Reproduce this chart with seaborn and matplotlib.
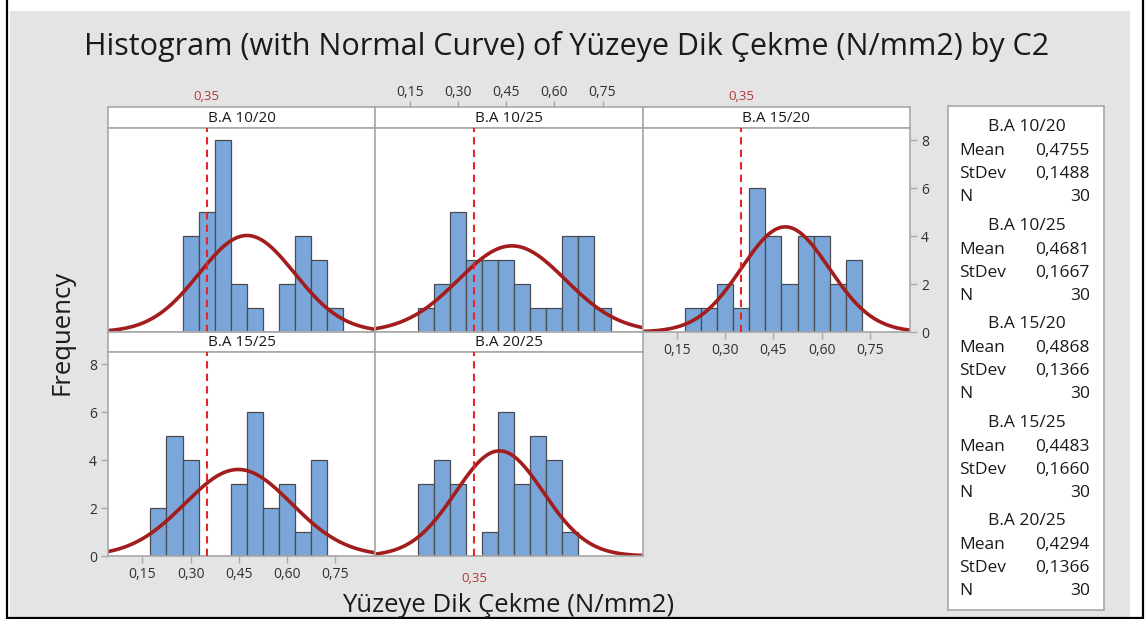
import numpy as np
import pandas as pd
import matplotlib
matplotlib.use("Agg")
import matplotlib.pyplot as plt
import seaborn as sns
from matplotlib.ticker import FuncFormatter, FixedLocator
from matplotlib.transforms import blended_transform_factory
from matplotlib.patches import Rectangle
from matplotlib.lines import Line2D

# ---------------- data ----------------
groups = ["B.A 10/20", "B.A 10/25", "B.A 15/20", "B.A 15/25", "B.A 20/25"]
bin_centers = [0.20, 0.25, 0.30, 0.35, 0.40, 0.45, 0.50, 0.55, 0.60, 0.65, 0.70, 0.75]
counts_10_20 = [0, 0, 4, 5, 8, 2, 1, 0, 2, 4, 3, 1]
counts_10_25 = [1, 2, 5, 3, 3, 3, 2, 1, 1, 4, 4, 1]
counts_15_20 = [1, 1, 2, 1, 6, 4, 2, 4, 4, 2, 3, 0]
counts_15_25 = [2, 5, 4, 0, 0, 3, 6, 2, 3, 1, 4, 0]
counts_20_25 = [3, 4, 3, 0, 1, 6, 3, 5, 4, 1, 0, 0]
means = [0.4755, 0.4681, 0.4868, 0.4483, 0.4294]
stdevs = [0.1488, 0.1667, 0.1366, 0.1660, 0.1366]
n_obs = [30, 30, 30, 30, 30]
ref_value = 0.35
x_ticks = [0.15, 0.30, 0.45, 0.60, 0.75]
y_ticks = [0, 2, 4, 6, 8]
title = "Histogram (with Normal Curve) of Yüzeye Dik Çekme (N/mm2) by C2"
x_label = "Yüzeye Dik Çekme (N/mm2)"
y_label = "Frequency"

all_counts = [counts_10_20, counts_10_25, counts_15_20, counts_15_25, counts_20_25]

# ---------------- style ----------------
sns.set_theme(style="white")
plt.rcParams['font.family'] = ['Open Sans', 'DejaVu Sans']

W, H = 1146, 619
BG = "#e4e4e4"
BAR = "#7ba6da"
EDGE = "#4a4c52"
CURVE = "#a31d1d"
REF = "#e3262c"
REF_TXT = "#b5373a"
SPINE = "#a8a8a8"
TXT = "#1a1a1a"
TICK_TXT = "#303030"

fig = plt.figure(figsize=(W / 100, H / 100), dpi=100)
fig.patch.set_facecolor("white")

# gray background panel and black frame lines
fig.add_artist(Rectangle((10 / W, 0), 1120 / W, 1 - 11 / H, transform=fig.transFigure,
                         facecolor=BG, edgecolor="none", zorder=-10))
fig.add_artist(Line2D([7 / W, 7 / W], [0, 1], transform=fig.transFigure, color="black", lw=1.6))
fig.add_artist(Line2D([1143 / W, 1143 / W], [0, 1], transform=fig.transFigure, color="black", lw=1.6))
fig.add_artist(Line2D([7 / W, 1143 / W], [1 - 617.5 / H] * 2, transform=fig.transFigure, color="black", lw=1.6))


def add_axes_px(x0, y0, x1, y1):
    return fig.add_axes([x0 / W, 1 - y1 / H, (x1 - x0) / W, (y1 - y0) / H])


def comma_fmt(v, pos=None):
    return f"{v:.2f}".replace(".", ",")


bin_width = 0.05
bin_edges = [round(0.175 + i * bin_width, 3) for i in range(len(bin_centers) + 1)]
xlim = (0.043, 0.875)
ylim = (0, 8.5)

col_x = [108, 375.3, 642.7, 910]
rows = {0: (107, 128, 332), 1: (332, 352, 556)}
layout = [(0, 0), (0, 1), (0, 2), (1, 0), (1, 1)]

xs = np.linspace(xlim[0], xlim[1], 400)

for gi, (r, c) in enumerate(layout):
    s0, p0, p1 = rows[r]
    x0, x1 = col_x[c], col_x[c + 1]
    # strip
    sax = add_axes_px(x0, s0, x1, p0)
    sax.set_facecolor("white")
    sax.set_xlim(xlim)
    sax.set_ylim(0, 1)
    sax.set_yticks([])
    for sp in sax.spines.values():
        sp.set_color(SPINE)
        sp.set_linewidth(1.2)
    sax.text(0.5, 0.47, groups[gi], transform=sax.transAxes, ha="center", va="center",
             fontsize=11, color=TXT)
    if (r, c) == (0, 1):
        sax.xaxis.set_major_locator(FixedLocator(x_ticks))
        sax.xaxis.set_major_formatter(FuncFormatter(comma_fmt))
        sax.tick_params(axis="x", bottom=False, labelbottom=False, top=True, labeltop=True,
                        direction="out", length=4, width=1, color=SPINE, labelsize=10,
                        labelcolor=TICK_TXT, pad=1)
    else:
        sax.set_xticks([])

    # plot panel
    ax = add_axes_px(x0, p0, x1, p1)
    ax.set_facecolor("white")
    df = pd.DataFrame({"center": bin_centers, "count": all_counts[gi]})
    sns.histplot(data=df, x="center", weights="count", bins=bin_edges, ax=ax,
                 color=BAR, edgecolor=EDGE, linewidth=0.9, alpha=1.0)
    ys = n_obs[gi] * bin_width * np.exp(-0.5 * ((xs - means[gi]) / stdevs[gi]) ** 2) / (stdevs[gi] * np.sqrt(2 * np.pi))
    sns.lineplot(x=xs, y=ys, ax=ax, color=CURVE, linewidth=2.6)
    ax.axvline(ref_value, color=REF, ls=(0, (3.5, 2.5)), lw=1.5, zorder=5)
    ax.set_xlim(xlim)
    ax.set_ylim(ylim)
    ax.set_xlabel("")
    ax.set_ylabel("")
    for sp in ax.spines.values():
        sp.set_color(SPINE)
        sp.set_linewidth(1.2)

    show_xb = (r, c) in [(0, 2), (1, 0)]
    show_yl = (r, c) == (1, 0)
    show_yr = (r, c) == (0, 2)
    ax.xaxis.set_major_locator(FixedLocator(x_ticks))
    ax.xaxis.set_major_formatter(FuncFormatter(comma_fmt))
    ax.yaxis.set_major_locator(FixedLocator(y_ticks))
    ax.tick_params(axis="x", bottom=show_xb, labelbottom=show_xb, top=False, labeltop=False,
                   direction="out", length=5, width=1, color=SPINE, labelsize=10,
                   labelcolor=TICK_TXT, pad=3)
    ax.tick_params(axis="y", left=show_yl, labelleft=show_yl, right=show_yr, labelright=show_yr,
                   direction="out", length=5, width=1, color=SPINE, labelsize=10,
                   labelcolor=TICK_TXT, pad=3)

    # red reference labels
    tr = blended_transform_factory(ax.transData, fig.transFigure)
    if (r, c) in [(0, 0), (0, 2)]:
        ax.text(ref_value, 1 - 97 / H, "0,35", transform=tr, ha="center", va="center",
                fontsize=9.5, color=REF_TXT)
    if (r, c) == (1, 1):
        ax.text(ref_value, 1 - 578 / H, "0,35", transform=tr, ha="center", va="center",
                fontsize=9.5, color=REF_TXT)

# titles and axis labels
fig.text(567 / W, 1 - 46 / H, title, ha="center", va="center", fontsize=22, color=TXT)
fig.text(508 / W, 1 - 605 / H, x_label, ha="center", va="center", fontsize=18.5, color=TXT)
fig.text(62 / W, 1 - 332 / H, y_label, ha="center", va="center", rotation=90, fontsize=18.5, color=TXT)

# legend box
lax = add_axes_px(948, 106, 1104, 610)
lax.set_facecolor("white")
lax.set_xticks([])
lax.set_yticks([])
for sp in lax.spines.values():
    sp.set_color(SPINE)
    sp.set_linewidth(1.2)

for gi, g in enumerate(groups):
    yb = 127 + gi * 98.6
    fig.text(1027 / W, 1 - yb / H, g, ha="center", va="center", fontsize=12.5, color=TXT)
    rows_txt = [("Mean", f"{means[gi]:.4f}".replace(".", ",")),
                ("StDev", f"{stdevs[gi]:.4f}".replace(".", ",")),
                ("N", f"{n_obs[gi]}")]
    for k, (lab, val) in enumerate(rows_txt):
        yy = yb + 24 + k * 23
        fig.text(959 / W, 1 - yy / H, lab, ha="left", va="center", fontsize=12.5, color=TXT)
        fig.text(1090 / W, 1 - yy / H, val, ha="right", va="center", fontsize=12.5, color=TXT)

fig.savefig("out.png", dpi=100, facecolor=fig.get_facecolor())
